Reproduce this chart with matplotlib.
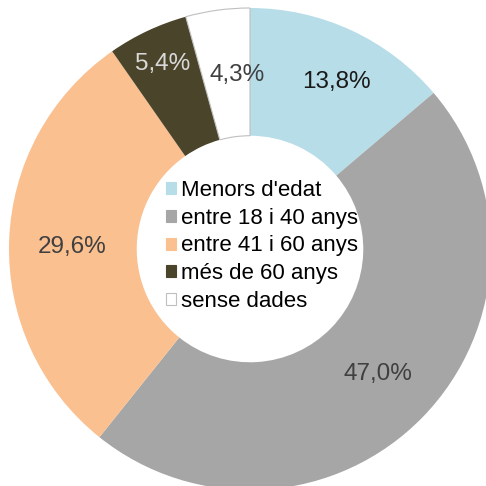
import matplotlib
matplotlib.use("Agg")
import numpy as np
import matplotlib.pyplot as plt
import matplotlib.patches as mpatches

# ── Data ──────────────────────────────────────────────────────────────────
categories = ["Menors d'edat", "entre 18 i 40 anys", "entre 41 i 60 anys",
              "més de 60 anys", "sense dades"]
shares = [13.8, 47.0, 29.6, 5.4, 4.3]
pct_labels = ["13,8%", "47,0%", "29,6%", "5,4%", "4,3%"]

colors = ["#B7DDE8", "#A6A6A6", "#FAC090", "#4A452A", "#FFFFFF"]
edge_colors = ["none", "none", "none", "none", "#BFBFBF"]
text_colors = ["#1A1A1A", "#404040", "#404040", "#D9D9D9", "#404040"]
label_radius = [0.78, 0.745, 0.74, 0.85, 0.725]
label_shift = [-2.5, -0.2, 1.2, 0.0, -3.5]   # degrees

plt.rcParams["font.family"] = ["Liberation Sans", "DejaVu Sans"]

fig = plt.figure(figsize=(4.86, 4.86), dpi=100)
ax = fig.add_axes([0, 0, 1, 1])

R = 1.0
ring = 0.53
wedges, _ = ax.pie(
    shares, radius=R, startangle=90, counterclock=False,
    colors=colors, wedgeprops=dict(width=ring, linewidth=0.8),
)
for w, ec in zip(wedges, edge_colors):
    w.set_edgecolor(ec)

# percentage labels at each wedge's mid angle
for w, lab, tc, rr, sh in zip(wedges, pct_labels, text_colors, label_radius, label_shift):
    ang = np.deg2rad((w.theta1 + w.theta2) / 2 + sh)
    ax.text(rr * np.cos(ang), rr * np.sin(ang), lab, ha="center", va="center",
            fontsize=17.5, color=tc)

handles = [mpatches.Patch(facecolor=c, edgecolor=(ec if ec != "none" else c),
                          linewidth=0.8, label=n)
           for c, ec, n in zip(colors, edge_colors, categories)]
ax.legend(handles=handles, loc="center", bbox_to_anchor=(262 / 486, 1 - 246 / 486),
          bbox_transform=fig.transFigure, frameon=False, fontsize=16,
          handlelength=0.45, handleheight=0.45, handletextpad=0.25,
          labelspacing=0.3, borderpad=0)

# pixel layout: centre at (250, 249), radius 241 px
scale = 241
ax.set_xlim(-250 / scale, (486 - 250) / scale)
ax.set_ylim(-(486 - 249) / scale, 249 / scale)
ax.set_aspect("auto")
ax.axis("off")

fig.savefig("out.png", dpi=100)
